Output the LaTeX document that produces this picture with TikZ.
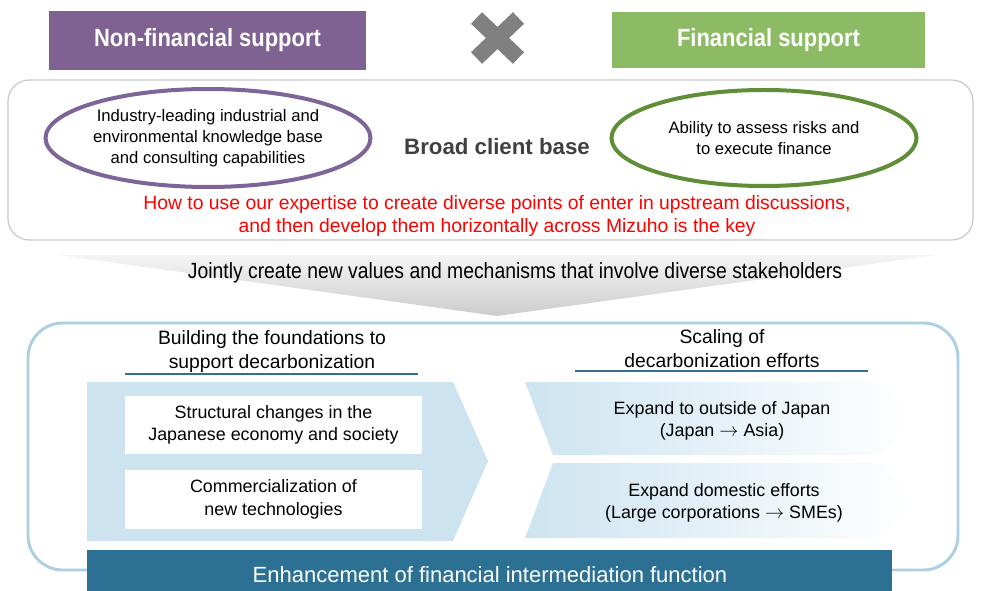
\documentclass[tikz,border=0pt]{standalone}
\usepackage{fontspec}
\setmainfont{Liberation Sans}
\newfontfamily\narrowfont[FakeStretch=0.88]{Liberation Sans}
\usetikzlibrary{shapes.geometric}

\definecolor{nfpurple}{RGB}{128,98,146}
\definecolor{fgreen}{RGB}{141,187,101}
\definecolor{ringpurple}{RGB}{126,101,152}
\definecolor{ringgreen}{RGB}{96,142,56}
\definecolor{crossgray}{RGB}{128,128,128}
\definecolor{framegray}{RGB}{200,200,200}
\definecolor{frameblue}{RGB}{172,207,226}
\definecolor{chevblue}{RGB}{205,228,240}
\definecolor{rulecol}{RGB}{52,110,145}
\definecolor{barteal}{RGB}{44,113,147}
\definecolor{textgray}{RGB}{64,64,64}

\begin{document}
\begin{tikzpicture}[x=0.75pt,y=-0.75pt,
    headbox/.style={inner sep=0pt,text=white,font=\narrowfont\bfseries\fontsize{18.7}{20}\selectfont},
    ring/.style={ellipse,draw,line width=3pt,fill=white,inner sep=0pt,align=center,
      font=\fontsize{12.5}{15.75}\selectfont},
    whitebox/.style={fill=white,inner sep=0pt,minimum width=222.75pt,align=center,
      font=\fontsize{13.4}{17}\selectfont},
    heading/.style={align=center,font=\fontsize{14.5}{18}\selectfont},
    chevtext/.style={align=center,font=\fontsize{13.4}{16.5}\selectfont}]
\useasboundingbox (0,0) rectangle (981,591);

% the two kinds of support
\node[headbox,fill=nfpurple,minimum width=237.75pt,minimum height=44.25pt](nonfin)at(207.5,40.5){Non-financial support};
\node[headbox,fill=fgreen,minimum width=234.75pt,minimum height=42pt](fin)at(768.5,40){Financial support};
\coordinate (cross) at (497.5,38);
\draw[crossgray,line width=12pt] ([shift={(-21,-20)}]cross) -- ([shift={(21,20)}]cross);
\draw[crossgray,line width=12pt] ([shift={(21,-20)}]cross) -- ([shift={(-21,20)}]cross);

% upper panel
\draw[framegray,line width=0.9pt,rounded corners=16pt] (8,80) rectangle (973,240);
\node[ring,draw=ringpurple,minimum width=229.5pt,minimum height=73.5pt](know)at(208,138)
  {Industry-leading industrial and\\environmental knowledge base\\and consulting capabilities};
\node[ring,draw=ringgreen,minimum width=228.75pt,minimum height=72pt](risk)at(764,138)
  {Ability to assess risks and\\to execute finance};
\node[text=textgray,font=\bfseries\fontsize{16.7}{18}\selectfont](client)at(497,147){Broad client base};
\node[text=red,align=center,font=\fontsize{14.5}{17.25}\selectfont](key)at(497,216)
  {How to use our expertise to create diverse points of enter in upstream discussions,\\
   and then develop them horizontally across Mizuho is the key};

% downward arrow
\shade[top color=gray!8,bottom color=gray!40] (58,255) -- (936,255) -- (497,316) -- cycle;
\node[font=\narrowfont\fontsize{16.5}{18}\selectfont](joint)at(515,273)
  {Jointly create new values and mechanisms that involve diverse stakeholders};

% lower panel
\draw[frameblue,line width=2.2pt,rounded corners=26pt] (28,323) rectangle (958,570);
\node[heading](found)at(272,352){Building the foundations to\\support decarbonization};
\draw[rulecol,line width=1.2pt] (125,374) -- (418,374);
\node[heading](scale)at(722,349){Scaling of\\decarbonization efforts};
\draw[rulecol,line width=1.2pt] (575,371) -- (868,371);

% left arrow with its two items
\fill[chevblue] (87,382) -- (453,382) -- (488,461) -- (453,541) -- (87,541) -- cycle;
\node[whitebox,minimum height=43.5pt](struct)at(273.5,425){Structural changes in the\\Japanese economy and society};
\node[whitebox,minimum height=44.25pt](comm)at(273.5,499.5){Commercialization of\\new technologies};

% right arrows
\shade[left color=chevblue,right color=white] (525,382) -- (883,382) -- (913,418.5) -- (883,455) -- (553,455) -- cycle;
\shade[left color=chevblue,right color=white] (553,463) -- (883,463) -- (913,500.5) -- (883,538) -- (525,538) -- cycle;
\node[chevtext](asia)at(722,421){Expand to outside of Japan\\(Japan $\rightarrow$ Asia)};
\node[chevtext](sme)at(724,502.5){Expand domestic efforts\\(Large corporations $\rightarrow$ SMEs)};

% bottom bar
\fill[barteal] (87,550) rectangle (892,591);
\node[text=white,font=\fontsize{16.5}{18}\selectfont](enh)at(490,575){Enhancement of financial intermediation function};
\end{tikzpicture}
\end{document}
